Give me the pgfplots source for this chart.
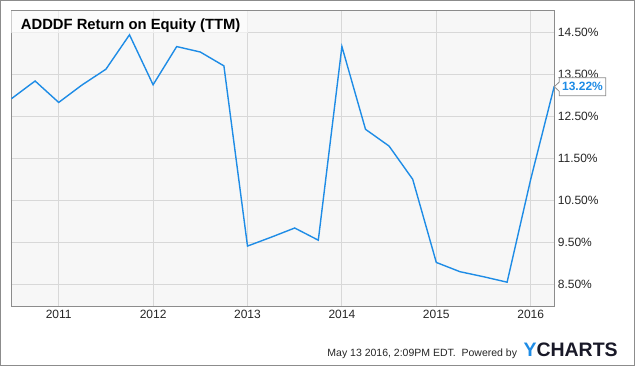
\documentclass[border=0pt]{standalone}
\usepackage{pgfplots}
\pgfplotsset{compat=1.18}
\usepackage{fontspec}
\setmainfont{Liberation Sans}
\definecolor{ylblue}{RGB}{30,140,230}
\definecolor{plotbg}{RGB}{247,247,247}
\definecolor{gridc}{RGB}{216,216,216}
\definecolor{framec}{RGB}{140,140,140}
\definecolor{logodark}{RGB}{25,25,40}
\begin{document}
\begin{tikzpicture}[x=1pt,y=1pt]
\useasboundingbox (0,0) rectangle (635,366);
\fill[white] (0,0) rectangle (635,366);
\begin{axis}[
  at={(10.7pt,60pt)}, anchor=south west,
  scale only axis, width=543.6pt, height=295.3pt,
  xmin=2010.4916, xmax=2016.25,
  ymin=7.983, ymax=15.014,
  axis background/.style={fill=plotbg},
  axis line style={draw=framec},
  xtick={2011,2012,2013,2014,2015,2016},
  ytick={8.5,9.5,10.5,11.5,12.5,13.5,14.5},
  xticklabels={2011,2012,2013,2014,2015,2016},
  yticklabel={\pgfmathprintnumber[fixed,fixed zerofill,precision=2]{\tick}\%},
  /pgf/number format/assume math mode=true,
  yticklabel pos=right,
  ticklabel style={font=\fontsize{12}{14}\selectfont, text=black!85},
  yticklabel style={anchor=west, xshift=0pt},
  xticklabel style={yshift=-1pt},
  major tick length=0pt,
  grid=major,
  major grid style={draw=gridc, line width=0.9pt},
  clip=true,
]
\addplot[ylblue, line width=1.4pt, line join=miter] coordinates {
(2010.5,12.92) (2010.75,13.34) (2011.0,12.83) (2011.25,13.25) (2011.5,13.62)
(2011.75,14.44) (2012.0,13.25) (2012.25,14.16) (2012.5,14.03) (2012.75,13.70)
(2013.0,9.41) (2013.25,9.62) (2013.5,9.84) (2013.75,9.55) (2014.0,14.16)
(2014.25,12.19) (2014.5,11.79) (2014.75,11.00) (2015.0,9.02) (2015.25,8.80)
(2015.5,8.68) (2015.75,8.55) (2016.0,11.0) (2016.25,13.22)
};
\end{axis}
% title band
\fill[white, opacity=0.55] (11.2,333.3) rectangle (248,355.3);
\node[anchor=base west, inner sep=0pt, font=\fontsize{14.8}{17}\selectfont\bfseries] at (20.7,336.7) {ADDDF Return on Equity (TTM)};
% value flag
\draw[framec, fill=white, line width=0.8pt] (554.3,279.3) -- (559.3,284) -- (559.3,288.3) -- (605.7,288.3) -- (605.7,270.3) -- (559.3,270.3) -- (559.3,274.6) -- cycle;
\node[anchor=center, inner sep=0pt, text=ylblue, font=\fontsize{12}{14}\selectfont\bfseries] at (582.5,279.3) {13.22\%};
% footer
\node[anchor=base east, inner sep=0pt, font=\fontsize{10.5}{12}\selectfont, text=black!85] at (517.3,9) {May 13 2016, 2:09PM EDT.\ \ Powered by};
\node[anchor=base west, inner sep=0pt, font=\fontsize{19.5}{22}\selectfont\bfseries] at (523.3,9) {\textcolor{ylblue}{Y}\textcolor{logodark}{CHARTS}};
% outer frame
\draw[framec, line width=1pt] (0.5,0.5) rectangle (634.5,365.5);
\end{tikzpicture}
\end{document}
